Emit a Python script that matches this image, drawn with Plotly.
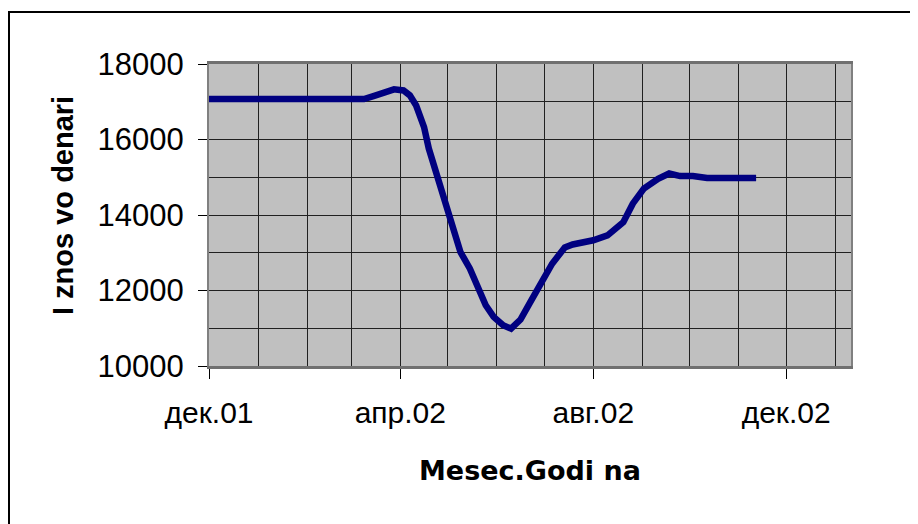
import plotly.graph_objects as go

dates = ["2001-12-01", "2001-12-15", "2002-01-01", "2002-01-15", "2002-02-01", "2002-02-15",
         "2002-03-01", "2002-03-09", "2002-03-15", "2002-03-28", "2002-04-03", "2002-04-07",
         "2002-04-11", "2002-04-16", "2002-04-19", "2002-04-23", "2002-04-27", "2002-05-01",
         "2002-05-05", "2002-05-09", "2002-05-15", "2002-05-20", "2002-05-25", "2002-05-30",
         "2002-06-05", "2002-06-10", "2002-06-16", "2002-06-22", "2002-06-30", "2002-07-06",
         "2002-07-14", "2002-07-19", "2002-08-01", "2002-08-10", "2002-08-20", "2002-08-26",
         "2002-09-02", "2002-09-11", "2002-09-18", "2002-09-25", "2002-10-03", "2002-10-12",
         "2002-10-25", "2002-11-12"]
values = [17070, 17070, 17070, 17070, 17070, 17070,
          17070, 17070, 17150, 17330, 17300, 17170,
          16900, 16330, 15760, 15230, 14650, 14040,
          13510, 13020, 12580, 12090, 11610, 11300,
          11080, 10990, 11230, 11680, 12230, 12710,
          13140, 13220, 13330, 13460, 13810, 14300,
          14700, 14960, 15100, 15030, 15030, 14980,
          14980, 14980]

tick_dates = ["2001-12-01", "2002-04-01", "2002-08-01", "2002-12-01"]
tick_labels = ["дек.01", "апр.02", "авг.02", "дек.02"]

y_title = "I znos vo denari"
x_title = "Mesec.Godi na"

W, H = 918, 524
OFF = 8  # page body margin
L, R, T, B = 209, 851, 64, 366  # target pixel positions of the plot area

fig = go.Figure()
fig.add_trace(go.Scatter(x=dates, y=values, mode="lines",
                         line=dict(color="#000080", width=6.5),
                         showlegend=False, hoverinfo="skip"))

def px_x(p):
    return (p - L) / (R - L)

def px_y(q):
    return (B - q) / (B - T)

fig.update_layout(
    width=W, height=H,
    margin=dict(l=L - OFF, r=W - R + OFF, t=T - OFF, b=H - B + OFF, autoexpand=False),
    paper_bgcolor="white",
    plot_bgcolor="#C0C0C0",
    font=dict(family="Liberation Sans, Arial, sans-serif", size=30, color="black"),
    shapes=[dict(type="rect", xref="paper", yref="paper",
                 x0=px_x(9), x1=px_x(960), y0=px_y(560), y1=px_y(12),
                 line=dict(color="black", width=2), fillcolor="rgba(0,0,0,0)",
                 layer="below")],
    annotations=[
        dict(text=y_title, xref="paper", yref="paper", x=px_x(63), y=px_y(206),
             xanchor="center", yanchor="middle", textangle=-90, showarrow=False,
             font=dict(family="Liberation Sans, Arial, sans-serif", size=29, color="black", weight="bold")),
        dict(text=x_title, xref="paper", yref="paper", x=px_x(530), y=px_y(470),
             xanchor="center", yanchor="middle", showarrow=False,
             font=dict(family="DejaVu Sans, sans-serif", size=27, color="black", weight="bold")),
    ],
)

fig.update_xaxes(
    type="date",
    range=["2001-12-01", "2003-01-11"],
    tickmode="array", tickvals=tick_dates, ticktext=tick_labels,
    ticks="outside", ticklen=10, tickwidth=1, tickcolor="black",
    showgrid=True, gridcolor="#202020", gridwidth=1,
    minor=dict(dtick="M1", tick0="2001-12-01", showgrid=True,
               gridcolor="#202020", gridwidth=1, ticks=""),
    showline=True, linecolor="#707070", linewidth=3, mirror=True,
    zeroline=False,
    ticklabelstandoff=8,
)
fig.update_yaxes(
    range=[10000, 18000],
    tickmode="linear", tick0=10000, dtick=2000, tickformat="d",
    ticks="outside", ticklen=9, tickwidth=1, tickcolor="black",
    showgrid=True, gridcolor="#202020", gridwidth=1,
    minor=dict(dtick=1000, showgrid=True, gridcolor="#202020", gridwidth=1, ticks=""),
    showline=True, linecolor="#808080", linewidth=2, mirror=True,
    zeroline=False,
    ticklabelstandoff=8,
    tickfont=dict(size=31),
)

fig.write_html("out.html")
